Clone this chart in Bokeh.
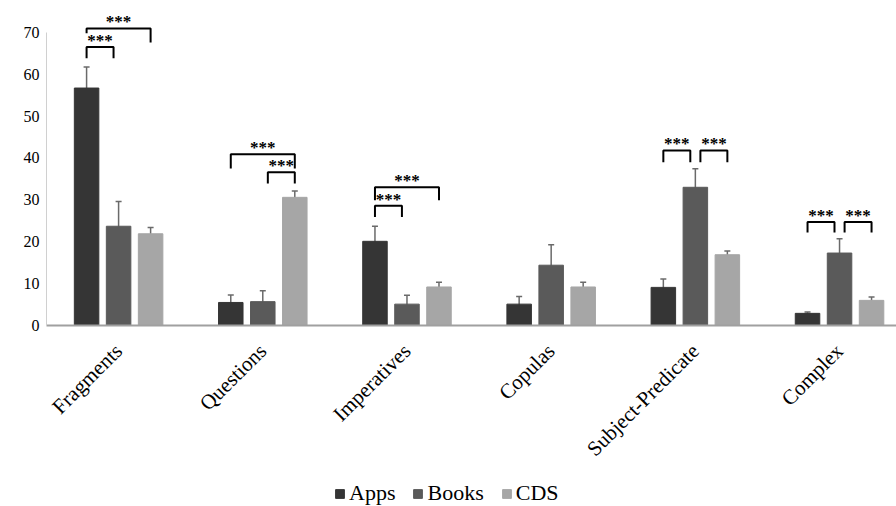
import numpy as np
from math import pi
from bokeh.plotting import figure
from bokeh.layouts import column
from bokeh.models import (ColumnDataSource, Range1d, FixedTicker, Whisker, TeeHead,
                          Legend, LegendItem)
from bokeh.core.properties import value
from bokeh.embed import file_html
from bokeh.resources import INLINE

# ---------------- data ----------------
categories = ["Fragments", "Questions", "Imperatives", "Copulas", "Subject-Predicate", "Complex"]
series = ["Apps", "Books", "CDS"]
apps = [56.7, 5.5, 20.1, 5.1, 9.1, 2.9]
books = [23.7, 5.7, 5.1, 14.4, 33.0, 17.3]
cds = [21.9, 30.6, 9.2, 9.2, 16.9, 6.0]
apps_err = [5.0, 1.8, 3.6, 1.8, 2.0, 0.3]
books_err = [5.9, 2.6, 2.1, 4.9, 4.4, 3.4]
cds_err = [1.5, 1.5, 1.1, 1.1, 0.9, 0.8]
y_ticks = [0, 10, 20, 30, 40, 50, 60, 70]

# significance brackets: group, from-series, to-series, top level, left/right drop ends
sig_group = [0, 0, 1, 1, 2, 2, 4, 4, 5, 5]
sig_from = [0, 0, 0, 1, 0, 0, 0, 1, 0, 1]
sig_to = [1, 2, 2, 2, 1, 2, 1, 2, 1, 2]
sig_top = [66.5, 70.9, 40.9, 36.6, 28.6, 33.0, 41.8, 41.8, 24.7, 24.7]
sig_left_end = [63.8, 69.8, 37.5, 33.9, 25.9, 29.9, 39.0, 39.0, 22.2, 22.2]
sig_right_end = [63.8, 67.6, 37.5, 33.9, 25.9, 29.9, 39.0, 39.0, 22.2, 22.2]
sig_text = ["***"] * 10

# ---------------- style ----------------
colors = ["#353535", "#5a5a5a", "#a6a6a6"]
offsets = [-0.222, 0.0, 0.222]
bar_w = 0.17
inset = 0.035
FONT = "Liberation Serif"

p = figure(width=896, height=475, output_backend="svg", toolbar_location=None,
           x_range=Range1d(-0.5, 5.395), y_range=Range1d(0, 77.6),
           min_border_left=46, min_border_right=0, min_border_top=0, min_border_bottom=150)
p.outline_line_color = None
p.xgrid.visible = False
p.ygrid.visible = False
p.background_fill_color = "white"

idx = np.arange(len(categories))
vals = [apps, books, cds]
errs = [apps_err, books_err, cds_err]
sources = []
for k in range(3):
    v = np.array(vals[k], dtype=float)
    e = np.array(errs[k], dtype=float)
    src = ColumnDataSource(dict(x=idx + offsets[k], top=v, upper=v + e, lower=v - e))
    sources.append(src)
    p.vbar(x="x", top="top", width=bar_w, source=src, fill_color=colors[k],
           line_color=colors[k], line_width=1)
    w = Whisker(source=src, base="x", upper="upper", lower="lower",
                line_color="#6a6a6a", line_width=1.5,
                upper_head=TeeHead(size=6, line_color="#6a6a6a", line_width=1.5),
                lower_head=TeeHead(size=6, line_color="#6a6a6a", line_width=1.5))
    p.add_layout(w)

# brackets
xs, ys, tx, ty = [], [], [], []
for i in range(len(sig_group)):
    g = sig_group[i]
    x0 = g + offsets[sig_from[i]] + (inset if sig_from[i] == 1 else 0)
    x1 = g + offsets[sig_to[i]] - (inset if sig_to[i] == 1 else 0)
    xs.append([x0, x0, x1, x1])
    ys.append([sig_left_end[i], sig_top[i], sig_top[i], sig_right_end[i]])
    tx.append((x0 + x1) / 2)
    ty.append(sig_top[i] + 1.6)
p.multi_line(xs=xs, ys=ys, line_color="black", line_width=2)
p.text(x=tx, y=ty, text=sig_text, text_font=value(FONT), text_font_size="17px",
       text_font_style="bold", text_align="center", text_baseline="middle", text_color="black")

# axes
xa = p.xaxis[0]
xa.ticker = FixedTicker(ticks=list(range(len(categories))))
xa.major_label_overrides = {i: c for i, c in enumerate(categories)}
xa.major_label_orientation = pi / 4
xa.major_label_text_font = FONT
xa.major_label_text_font_size = "21px"
xa.major_label_text_color = "black"
xa.major_label_standoff = 22
xa.axis_line_color = "#a0a0a0"
xa.axis_line_width = 2
xa.major_tick_line_color = None
xa.minor_tick_line_color = None
xa.major_tick_out = 0
xa.major_tick_in = 0

ya = p.yaxis[0]
ya.ticker = FixedTicker(ticks=y_ticks)
ya.bounds = (0, 70)
ya.major_label_text_font = FONT
ya.major_label_text_font_size = "16px"
ya.major_label_text_color = "black"
ya.major_label_standoff = 7
ya.axis_line_color = "#d0d0d0"
ya.axis_line_width = 1
ya.major_tick_line_color = None
ya.minor_tick_line_color = None
ya.major_tick_out = 0
ya.major_tick_in = 0

# legend strip below the chart (same series renderers, bars kept far outside this strip's view)
lg = figure(width=896, height=31, output_backend="svg", toolbar_location=None,
            x_range=Range1d(-100, -99), y_range=Range1d(-100, -99),
            min_border_left=46, min_border_right=0, min_border_top=0, min_border_bottom=0)
lg.axis.visible = False
lg.grid.visible = False
lg.outline_line_color = None
items = []
for k in range(3):
    r = lg.vbar(x="x", top="top", width=bar_w, source=sources[k],
                fill_color=colors[k], line_color=colors[k])
    items.append(LegendItem(label=series[k], renderers=[r]))
legend = Legend(items=items, orientation="horizontal", location=(288, 0),
                label_text_font=FONT, label_text_font_size="22px", label_text_color="black",
                glyph_width=11, glyph_height=11, label_standoff=4, spacing=17,
                padding=0, margin=0, border_line_color=None, background_fill_alpha=0)
lg.add_layout(legend, "center")

layout = column(p, lg, spacing=0)
open("out.html", "w").write(file_html(layout, INLINE))
